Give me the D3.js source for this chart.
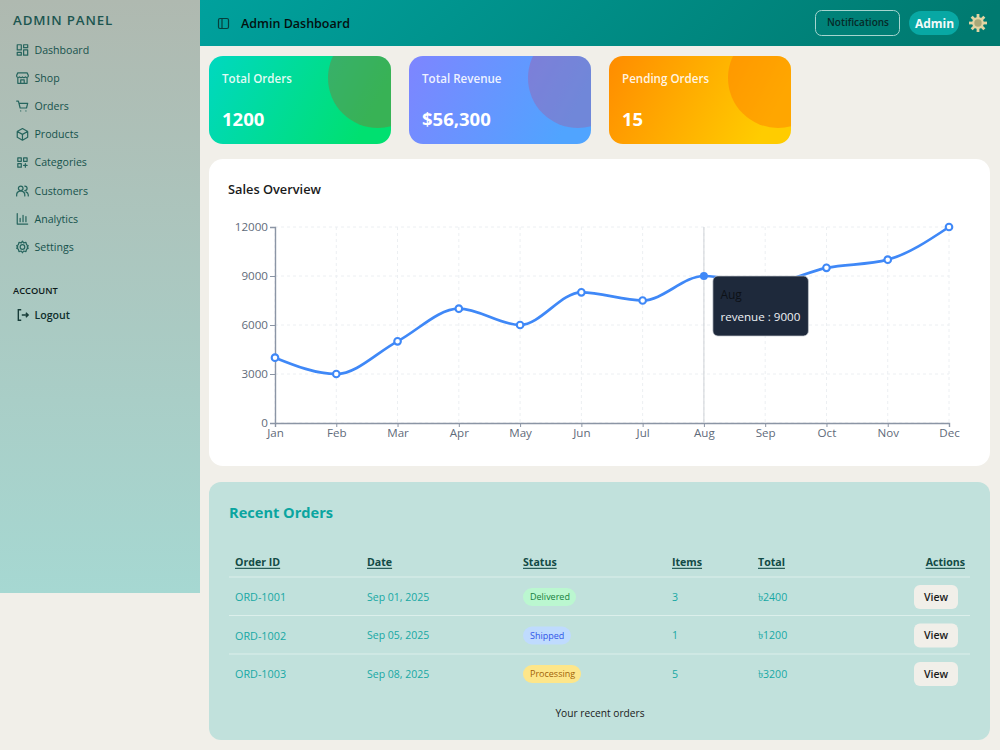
<!DOCTYPE html>
<html><head><meta charset="utf-8">
<script src="https://cdnjs.cloudflare.com/ajax/libs/d3/7.8.5/d3.min.js"></script>
<style>html,body{margin:0;padding:0;background:#f1efe9;overflow:hidden}svg{display:block}text{font-family:"Open Sans","Noto Sans",sans-serif}</style>
</head><body><div id="root"></div>
<script>
const months=["Jan","Feb","Mar","Apr","May","Jun","Jul","Aug","Sep","Oct","Nov","Dec"];
const revenue=[4000,3000,5000,7000,6000,8000,7500,9000,8500,9500,10000,12000];
const yTicks=[0,3000,6000,9000,12000];
const navItems=["Dashboard","Shop","Orders","Products","Categories","Customers","Analytics","Settings"];
const cardTitles=["Total Orders","Total Revenue","Pending Orders"];
const cardValues=["1200","$56,300","15"];
const orderIds=["ORD-1001","ORD-1002","ORD-1003"];
const orderDates=["Sep 01, 2025","Sep 05, 2025","Sep 08, 2025"];
const orderStatus=["Delivered","Shipped","Processing"];
const orderItems=["3","1","5"];
const orderTotals=["৳2400","৳1200","৳3200"];
const tableHeads=["Order ID","Date","Status","Items","Total","Actions"];

const svg=d3.select("#root").append("svg").attr("width",1000).attr("height",750);
const defs=svg.append("defs");
function grad(id,x2,y2,stops){const g=defs.append("linearGradient").attr("id",id).attr("x1",0).attr("y1",0).attr("x2",x2).attr("y2",y2);
 stops.forEach((c,i)=>g.append("stop").attr("offset",i/(stops.length-1)).attr("stop-color",c));}
grad("gSide",0,1,["#afb9b0","#a6d8d2"]);
grad("gHead",1,.06,["#00a19d","#007a70"]);
grad("gC0",1,.25,["#00d8c0","#00e070"]);
grad("gC1",1,.25,["#7e85ff","#50a4ff"]);
grad("gC2",1,.25,["#ff8c00","#ffcc00"]);
const T=(g,x,y,s,o={})=>g.append("text").attr("x",x).attr("y",y-.2).attr("dominant-baseline","central").attr("font-size",o.size||12).attr("font-weight",o.w||400).attr("fill",o.fill||"#111").attr("text-anchor",o.a||"start").attr("letter-spacing",o.ls||null).attr("text-decoration",o.u?"underline":null).text(s);

// background panels
svg.append("rect").attr("width",200).attr("height",593).attr("fill","url(#gSide)");
svg.append("rect").attr("x",200).attr("width",800).attr("height",46).attr("fill","url(#gHead)");

// sidebar
const side=svg.append("g");
T(side,13,20,"ADMIN PANEL",{size:13.3,w:600,fill:"#1d5650",ls:.85});
const icons=[
 "M3 3h7v9H3zM14 3h7v5h-7zM14 12h7v9h-7zM3 16h7v5H3z",
 "M2 7l2-4h16l2 4v2a3 3 0 0 1-5 1 3 3 0 0 1-5 0 3 3 0 0 1-5 0 3 3 0 0 1-5-1zM4 12v9h16v-9M9 21v-6h6v6",
 "M2 3h3l3 12h11l2-8H6M9 20h.01M18 20h.01",
 "M12 2l9 5v10l-9 5-9-5V7zM3 7l9 5 9-5M12 12v10",
 "M4 4h6v6H4zM14 4h6v6h-6zM4 14h6v6H4zM17 14v6M14 17h6",
 "M9 4a4 4 0 1 1 0 8 4 4 0 0 1 0-8zM2 21v-2a6 6 0 0 1 6-6h2a6 6 0 0 1 6 6v2M16 4a4 4 0 0 1 0 8M22 21v-2a6 6 0 0 0-4-5",
 "M3 3v18h18M8 17v-6M13 17V6M18 17v-9",
 "M12 8a4 4 0 1 1 0 8 4 4 0 0 1 0-8zM12 2l2 3 4-1 1 4 3 2-2 2 2 2-3 2-1 4-4-1-2 3-2-3-4 1-1-4-3-2 2-2-2-2 3-2 1-4 4 1z"];
const navY=d3.scalePoint().domain(navItems).range([50,247]);
const nav=side.selectAll("g.nav").data(navItems).join("g").attr("class","nav");
nav.each(function(d,i){const g=d3.select(this),y=navY(d);
 T(g,34.5,y,d,{size:10.6,w:500,fill:"#16524c"});
 g.append("path").attr("d",icons[i]).attr("transform",`translate(15.5,${y-7}) scale(.58)`).attr("fill","none").attr("stroke","#27655e").attr("stroke-width",2.1).attr("stroke-linejoin","round").attr("stroke-linecap","round");});
T(side,13,290.5,"ACCOUNT",{size:9.3,w:600,fill:"#0d1a1a"});
T(side,34.5,315.5,"Logout",{size:10.6,w:600,fill:"#10302d"});
side.append("path").attr("d","M9 3H4v18h5M10 12h11M17 8l4 4-4 4").attr("transform","translate(16,308) scale(.58)").attr("fill","none").attr("stroke","#173c38").attr("stroke-width",2.4);

// header
const head=svg.append("g");
head.append("rect").attr("x",218.5).attr("y",18.5).attr("width",10).attr("height",10).attr("rx",1.5).attr("fill","none").attr("stroke","#063f3c").attr("stroke-width",1.2);
head.append("line").attr("x1",222).attr("x2",222).attr("y1",18.5).attr("y2",28.5).attr("stroke","#063f3c").attr("stroke-width",1.2);
T(head,241,23.6,"Admin Dashboard",{size:12.5,w:600,fill:"#04100f"});
head.append("rect").attr("x",815.5).attr("y",10.5).attr("width",84).attr("height",25).attr("rx",6).attr("fill","none").attr("stroke","#a5d5cf");
T(head,858,22.6,"Notifications",{size:10,w:600,fill:"#062a28",a:"middle"});
head.append("rect").attr("x",909).attr("y",11).attr("width",50).attr("height",24).attr("rx",12).attr("fill","#08a8a4");
T(head,934.5,24,"Admin",{size:12,w:700,fill:"#f3fbfa",a:"middle"});
const sun=head.append("g").attr("transform","translate(978,23)");
d3.range(8).forEach(i=>sun.append("line").attr("transform",`rotate(${i*45})`).attr("y1",-5).attr("y2",-9).attr("stroke","#e3d4a2").attr("stroke-width",2.8));
sun.append("circle").attr("r",4.8).attr("fill","#a9a878").attr("stroke","#e3d4a2").attr("stroke-width",2.2);

// cards
const cardX=d3.scalePoint().domain(cardTitles).range([209,609]);
const overlay=["rgba(187,73,23,.3)","rgba(190,70,130,.3)","rgba(255,120,0,.45)"];
cardTitles.forEach((t,i)=>{const x=cardX(t),id="clip"+i;
 defs.append("clipPath").attr("id",id).append("rect").attr("x",x).attr("y",56).attr("width",182).attr("height",88).attr("rx",14);
 const g=svg.append("g");
 g.append("rect").attr("x",x).attr("y",56).attr("width",182).attr("height",88).attr("rx",14).attr("fill",`url(#gC${i})`);
 g.append("circle").attr("cx",x+169).attr("cy",78).attr("r",50).attr("fill",overlay[i]).attr("clip-path",`url(#${id})`);
 T(g,x+13,78.6,t,{size:11.6,w:600,fill:"rgba(255,255,255,.9)"});
 T(g,x+13,119,cardValues[i],{size:18.5,w:700,fill:"#fff"});
});

// chart panel
svg.append("rect").attr("x",209).attr("y",159).attr("width",781).attr("height",307).attr("rx",14).attr("fill","#fff");
T(svg,228,189,"Sales Overview",{size:12.8,w:600,fill:"#1a1a1a"});
const x=d3.scalePoint().domain(months).range([275,949]);
const y=d3.scaleLinear().domain([0,12000]).range([423,227]);
const grid=svg.append("g").attr("stroke","#eceff2").attr("stroke-dasharray","3 3");
grid.selectAll("line.h").data(yTicks).join("line").attr("class","h").attr("x1",275).attr("x2",949).attr("y1",d=>y(d)).attr("y2",d=>y(d));
grid.selectAll("line.v").data(months).join("line").attr("class","v").attr("x1",d=>x(d)).attr("x2",d=>x(d)).attr("y1",227).attr("y2",423);
const ax=svg.append("g").attr("transform","translate(0,423)").call(d3.axisBottom(x).tickSize(4).tickPadding(2));
const ay=svg.append("g").attr("transform","translate(275,0)").call(d3.axisLeft(y).tickValues(yTicks).tickSize(5).tickPadding(2).tickFormat(d3.format("d")));
[ax,ay].forEach(a=>{a.selectAll("path,line").attr("stroke","#8b95a5");a.select("path").attr("stroke-width",1.4);a.selectAll("text").attr("font-size",11.6).attr("fill","#5f6b7a").attr("font-family",'"Open Sans",sans-serif');});
svg.append("line").attr("x1",x("Aug")).attr("x2",x("Aug")).attr("y1",227).attr("y2",423).attr("stroke","#cfd2d6");
svg.append("path").attr("d",d3.line().x((d,i)=>x(months[i])).y(d=>y(d)).curve(d3.curveMonotoneX)(revenue)).attr("fill","none").attr("stroke","#3f88f7").attr("stroke-width",2.7);
svg.selectAll("circle.dot").data(revenue).join("circle").attr("class","dot").attr("cx",(d,i)=>x(months[i])).attr("cy",d=>y(d)).attr("r",(d,i)=>months[i]=="Aug"?4:3.3).attr("fill",(d,i)=>months[i]=="Aug"?"#3f88f7":"#fff").attr("stroke","#3f88f7").attr("stroke-width",(d,i)=>months[i]=="Aug"?0:2.1);
const tipX=x("Aug")+9,tipY=y(9000);
const tip=svg.append("g");
tip.append("rect").attr("x",tipX).attr("y",tipY).attr("width",95.5).attr("height",60).attr("rx",5).attr("fill","#1e293b").attr("stroke","#c5c9cf").attr("stroke-opacity",.7);
T(tip,tipX+7.5,tipY+18.5,"Aug",{size:12,fill:"#0d1117"});
T(tip,tipX+7.5,tipY+41,"revenue : "+revenue[7],{size:11.6,fill:"#eef1f5"});

// orders panel
svg.append("rect").attr("x",209).attr("y",482).attr("width",781).attr("height",258).attr("rx",12).attr("fill","#c1e1dc");
T(svg,229,512,"Recent Orders",{size:14.6,w:700,fill:"#0aa5a0"});
const colX=[235,367,523,672,758,965];
tableHeads.forEach((h,i)=>T(svg,colX[i],562,h,{size:10.6,w:700,fill:"#124a45",u:true,a:i==5?"end":"start"}));
const rowY=d3.scalePoint().domain(orderIds).range([597,674]);
const badge={Delivered:["#bbf7d0","#15803d",53],Shipped:["#bfdbfe","#2f55e8",48],Processing:["#fde68a","#a16207",58]};
[577,615.5,654].forEach(v=>svg.append("line").attr("x1",229).attr("x2",970).attr("y1",v).attr("y2",v).attr("stroke","#dcefeb"));
orderIds.forEach((id,i)=>{const ry=rowY(id),g=svg.append("g"),c="#17a8a4";
 T(g,235,ry,id,{size:10.8,w:500,fill:c});
 T(g,367,ry,orderDates[i],{size:10.5,fill:c});
 const b=badge[orderStatus[i]];
 g.append("rect").attr("x",523).attr("y",ry-9).attr("width",b[2]).attr("height",18).attr("rx",9).attr("fill",b[0]);
 T(g,530,ry,orderStatus[i],{size:9,w:500,fill:b[1]});
 T(g,672,ry,orderItems[i],{size:10.6,fill:c});
 T(g,758,ry,orderTotals[i],{size:10.6,fill:c});
 g.append("rect").attr("x",914).attr("y",ry-12).attr("width",44).attr("height",24).attr("rx",6).attr("fill","#f1efe9");
 T(g,936,ry,"View",{size:10.5,w:600,fill:"#1a1a1a",a:"middle"});
});
T(svg,600,713,"Your recent orders",{size:10.2,fill:"#1a1a1a",a:"middle"});
</script></body></html>
